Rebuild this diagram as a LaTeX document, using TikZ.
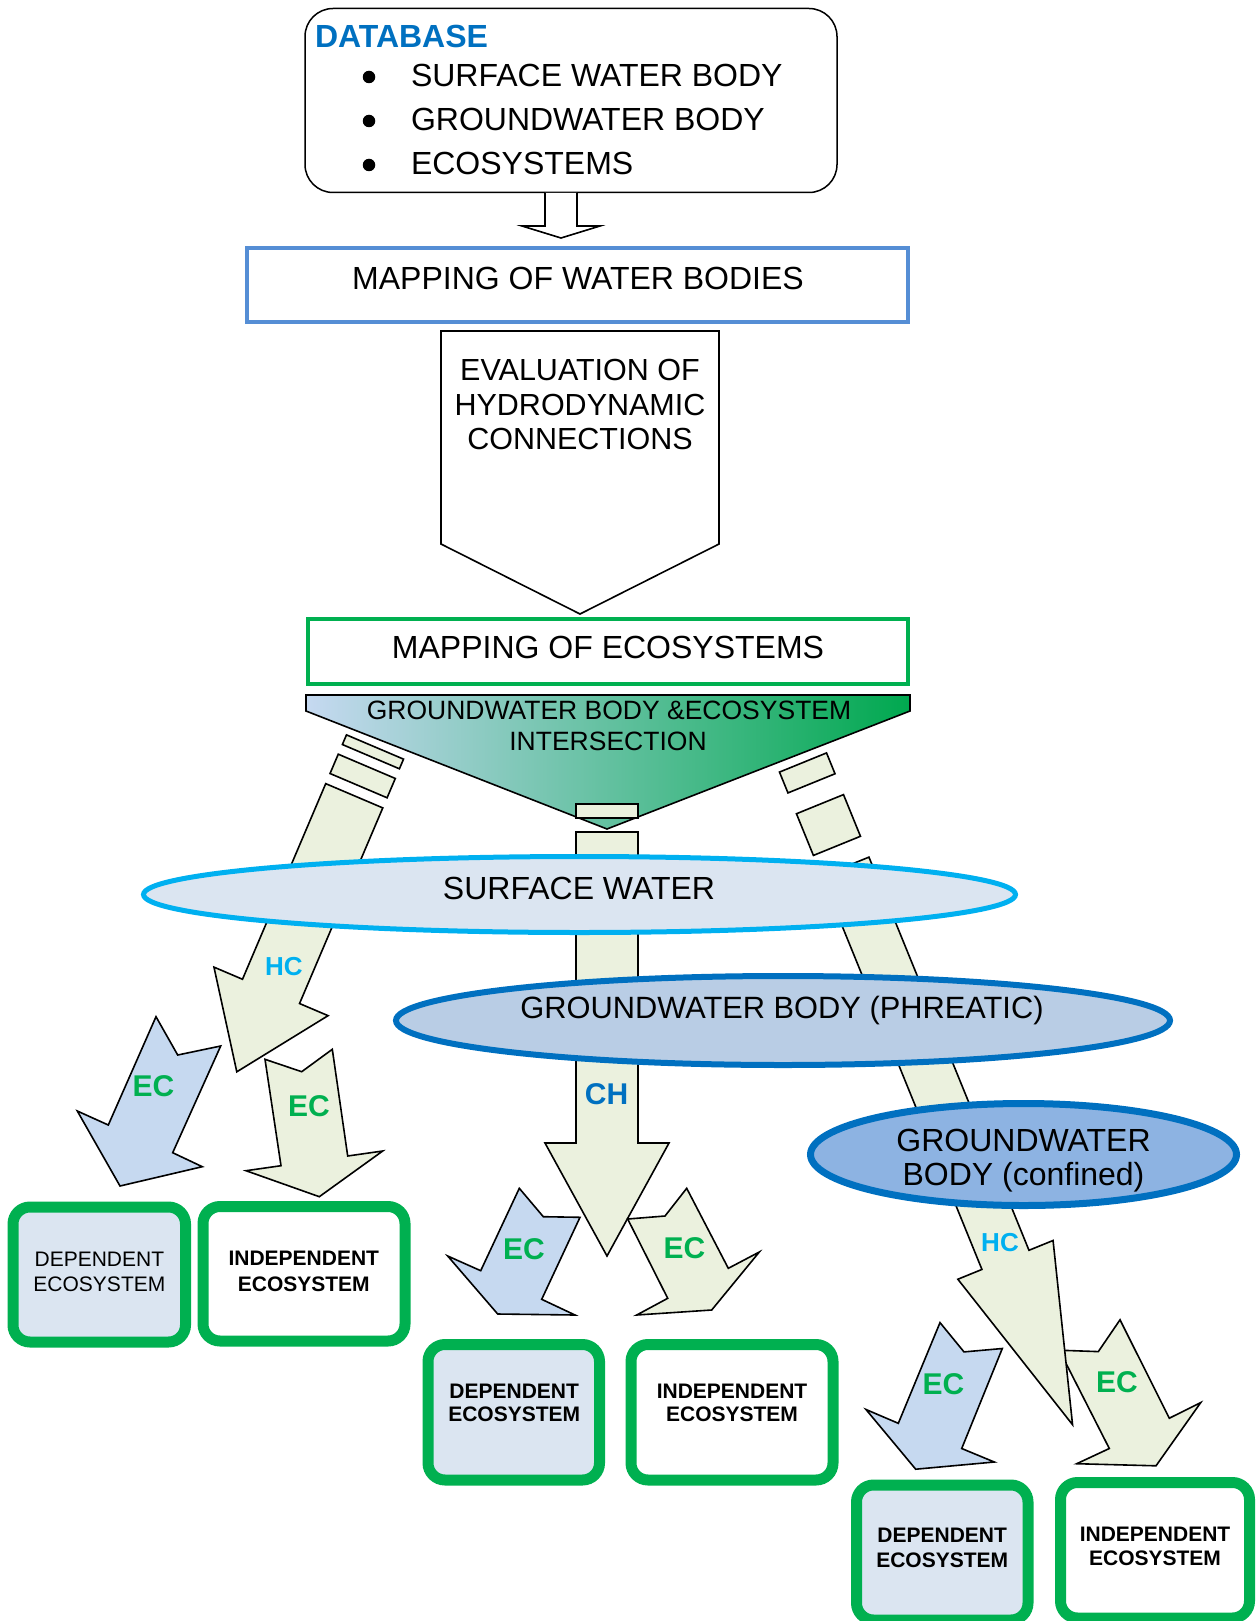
\documentclass[tikz,border=0pt]{standalone}
\usepackage{fontspec}
\setmainfont{Liberation Sans}
\usetikzlibrary{shapes.geometric}
\definecolor{dbblue}{RGB}{0,112,192}
\definecolor{wbblue}{RGB}{85,142,213}
\definecolor{ecogreen}{RGB}{0,176,80}
\definecolor{arrgreen}{RGB}{235,241,222}
\definecolor{arrblue}{RGB}{198,217,240}
\definecolor{swfill}{RGB}{219,229,241}
\definecolor{swline}{RGB}{0,176,240}
\definecolor{phfill}{RGB}{185,205,229}
\definecolor{cofill}{RGB}{141,179,226}
\definecolor{funL}{RGB}{198,217,241}
\definecolor{funR}{RGB}{0,168,79}
\newcommand\myfs[1]{\fontsize{#1}{#1}\selectfont}
\begin{document}
\begin{tikzpicture}[x=1pt,y=-1pt,
  txt/.style={inner sep=0pt, outer sep=0pt, anchor=base},
  blk/.style={draw=black, line width=1.6pt, line join=miter},
  garrow/.style={blk, fill=arrgreen},
  barrow/.style={blk, fill=arrblue},
  bul/.style={circle, fill=black, inner sep=0pt, minimum size=12.5pt},
  ecbox/.style={draw=ecogreen, line width=11pt, rounded corners=17pt, inner sep=0pt},
  ell/.style={ellipse, inner sep=0pt}]
\useasboundingbox (0,0) rectangle (1256,1621);

% ---------- top part ----------
\node[draw=black, line width=1.5pt, rounded corners=28pt, minimum width=532pt, minimum height=184pt, inner sep=0pt] (db) at (571,100.5) {};
\draw[blk, fill=white] (545,193) -- (545,226) -- (522,226) -- (561,238) -- (600,226) -- (577,226) -- (577,193);
\node[draw=wbblue, line width=4.5pt, minimum width=661pt, minimum height=74pt, inner sep=0pt] (mwb) at (577.5,285) {};
\draw[blk, fill=white] (441,331) -- (719,331) -- (719,544) -- (580,614) -- (441,544) -- cycle;
\coordinate (evtip) at (580,614);
\node[draw=ecogreen, line width=4.5pt, minimum width=600pt, minimum height=65pt, inner sep=0pt] (meco) at (608,651.5) {};

% funnel
\draw[blk, left color=funL, right color=funR] (306,695) -- (910,695) -- (910,711) -- (607,829) -- (306,711) -- cycle;
\draw[garrow] (576,804) rectangle (638,818);

% right EC arrows (under the HC head)
\draw[barrow] (940,1322.6) -- (964,1351.9) -- (1002.3,1348.5) -- (961.7,1448.5) -- (994.3,1462) -- (915.7,1469.2) -- (866,1409.5) -- (898.3,1423.3) -- cycle;
\draw[garrow] (1059.3,1350.2) -- (1098.3,1351.6) -- (1120,1319.8) -- (1169.3,1418.2) -- (1200.7,1402.6) -- (1156,1465.8) -- (1076.7,1463.7) -- (1109.3,1448.5) -- cycle;
% left EC arrows
\draw[barrow] (156,1016.7) -- (177.7,1055) -- (220.7,1046) -- (172.7,1152.7) -- (202.3,1166.7) -- (120,1186) -- (77.3,1111) -- (108.3,1125) -- cycle;
\draw[garrow] (265,1059.3) -- (301.7,1071.7) -- (332.3,1049.3) -- (347.7,1156) -- (382.7,1151) -- (319.3,1196.7) -- (246,1170.7) -- (281,1165.7) -- cycle;

% left striped arrow (HC)
\begin{scope}[shift={(375,747)}, rotate=-23.05]
  \draw[garrow] (-31,0) rectangle (31,10.5);
  \draw[garrow] (-31,21) rectangle (31,42);
  \draw[garrow] (-31,53) -- (31,53) -- (31,265.6) -- (62,265.6) -- (0,353) -- (-62,265.6) -- (-31,265.6) -- cycle;
\end{scope}
% centre arrow (CH)
\draw[garrow] (576,832) -- (638,832) -- (638,1143) -- (669,1143) -- (607,1256) -- (545,1143) -- (576,1143) -- cycle;
% right striped arrow (HC)
\begin{scope}[shift={(803,762.5)}, rotate=22.15]
  \draw[garrow] (-25.4,0) rectangle (25.4,22.5);
  \draw[garrow] (-25.4,45) rectangle (25.4,90);
  \draw[garrow] (-25.4,112.5) -- (25.4,112.5) -- (25.4,537) -- (51.4,537) -- (0,715) -- (-51.4,537) -- (-25.4,537) -- cycle;
\end{scope}

% middle EC arrows
\draw[barrow] (519.3,1188.3) -- (543.3,1216.7) -- (580,1217.3) -- (541.7,1299.3) -- (575,1315) -- (497.7,1314) -- (447.7,1256) -- (480.7,1270.7) -- cycle;
\draw[garrow] (627.7,1219) -- (665,1216) -- (686.7,1188.3) -- (728.3,1268.3) -- (759.3,1252) -- (711.7,1310) -- (636.7,1315) -- (667.7,1298.3) -- cycle;

% ellipses
\node[ell, draw=swline, fill=swfill, line width=5pt, minimum width=872pt, minimum height=76pt] (sw) at (579.5,894.5) {};
\node[ell, draw=dbblue, fill=phfill, line width=6pt, minimum width=774pt, minimum height=89pt] (ph) at (783,1020.5) {};
\node[ell, draw=dbblue, fill=cofill, line width=7pt, minimum width=426pt, minimum height=102pt] (co) at (1023.5,1154.5) {};

% ecosystem boxes
\node[ecbox, fill=swfill, minimum width=172.5pt, minimum height=135pt] (dep1) at (99.25,1274.5) {};
\node[ecbox, fill=white, minimum width=202pt, minimum height=134.5pt] (ind1) at (304,1273.75) {};
\node[ecbox, fill=swfill, minimum width=171.5pt, minimum height=135.5pt] (dep2) at (513.75,1412.25) {};
\node[ecbox, fill=white, minimum width=202pt, minimum height=135.5pt] (ind2) at (732,1412.25) {};
\node[ecbox, fill=swfill, minimum width=171.5pt, minimum height=135pt] (dep3) at (942.25,1552.5) {};
\node[ecbox, fill=white, minimum width=189pt, minimum height=135.5pt] (ind3) at (1155,1550.25) {};

% ---------- texts ----------
\node[txt, anchor=base west, font=\myfs{32}\bfseries, text=dbblue] (dbt) at (315,48) {DATABASE};
\node[bul] (b1) at (369,77) {};
\node[bul] (b2) at (369,121) {};
\node[bul] (b3) at (369,165) {};
\node[txt, anchor=base west, font=\myfs{32}] (i1) at (411,87) {SURFACE WATER BODY};
\node[txt, anchor=base west, font=\myfs{32}] (i2) at (411,131) {GROUNDWATER BODY};
\node[txt, anchor=base west, font=\myfs{32}] (i3) at (411,175) {ECOSYSTEMS};
\node[txt, font=\myfs{32}] (mwbt) at (578,289) {MAPPING OF WATER BODIES};
\node[txt, font=\myfs{30.5}] (ev1) at (580,380.5) {EVALUATION OF};
\node[txt, font=\myfs{30.5}] (ev2) at (580,415.5) {HYDRODYNAMIC};
\node[txt, font=\myfs{30.5}] (ev3) at (580,449.5) {CONNECTIONS};
\node[txt, font=\myfs{32}] (mecot) at (608,658) {MAPPING OF ECOSYSTEMS};
\node[txt, font=\myfs{26.5}] (fu1) at (609,719) {GROUNDWATER BODY \&ECOSYSTEM};
\node[txt, font=\myfs{26.5}] (fu2) at (608,750) {INTERSECTION};
\node[txt, font=\myfs{32}] (swt) at (579,899) {SURFACE WATER};
\node[txt, font=\myfs{30.8}] (pht) at (782,1018) {GROUNDWATER BODY (PHREATIC)};
\node[txt, font=\myfs{32}] (co1) at (1023.5,1151) {GROUNDWATER};
\node[txt, font=\myfs{32}] (co2) at (1023.5,1185) {BODY (confined)};

\node[txt, font=\myfs{26}\bfseries, text=swline] (hc1) at (284,975) {HC};
\node[txt, font=\myfs{26}\bfseries, text=swline] (hc2) at (1000,1251) {HC};
\node[txt, font=\myfs{30}\bfseries, text=dbblue] (ch) at (606.5,1104) {CH};
\node[txt, font=\myfs{30}\bfseries, text=ecogreen] (ec1) at (153.4,1096) {EC};
\node[txt, font=\myfs{30}\bfseries, text=ecogreen] (ec2) at (309,1116.7) {EC};
\node[txt, font=\myfs{30}\bfseries, text=ecogreen] (ec3) at (524,1259) {EC};
\node[txt, font=\myfs{30}\bfseries, text=ecogreen] (ec4) at (684.5,1258.3) {EC};
\node[txt, font=\myfs{30}\bfseries, text=ecogreen] (ec5) at (943.5,1394.7) {EC};
\node[txt, font=\myfs{30}\bfseries, text=ecogreen] (ec6) at (1117,1392.3) {EC};

\node[txt, font=\myfs{21}] (d1a) at (99.4,1266.7) {DEPENDENT};
\node[txt, font=\myfs{21}] (d1b) at (99.4,1291) {ECOSYSTEM};
\node[txt, font=\myfs{21}\bfseries] (n1a) at (303.8,1265.7) {INDEPENDENT};
\node[txt, font=\myfs{21}\bfseries] (n1b) at (303.8,1291) {ECOSYSTEM};
\node[txt, font=\myfs{21}\bfseries] (d2a) at (514.2,1398.3) {DEPENDENT};
\node[txt, font=\myfs{21}\bfseries] (d2b) at (514.2,1421.7) {ECOSYSTEM};
\node[txt, font=\myfs{21}\bfseries] (n2a) at (732,1398) {INDEPENDENT};
\node[txt, font=\myfs{21}\bfseries] (n2b) at (732,1421.7) {ECOSYSTEM};
\node[txt, font=\myfs{21}\bfseries] (d3a) at (942.2,1542.4) {DEPENDENT};
\node[txt, font=\myfs{21}\bfseries] (d3b) at (942.2,1567.6) {ECOSYSTEM};
\node[txt, font=\myfs{21}\bfseries] (n3a) at (1155,1541.7) {INDEPENDENT};
\node[txt, font=\myfs{21}\bfseries] (n3b) at (1155,1565.9) {ECOSYSTEM};
\end{tikzpicture}
\end{document}
